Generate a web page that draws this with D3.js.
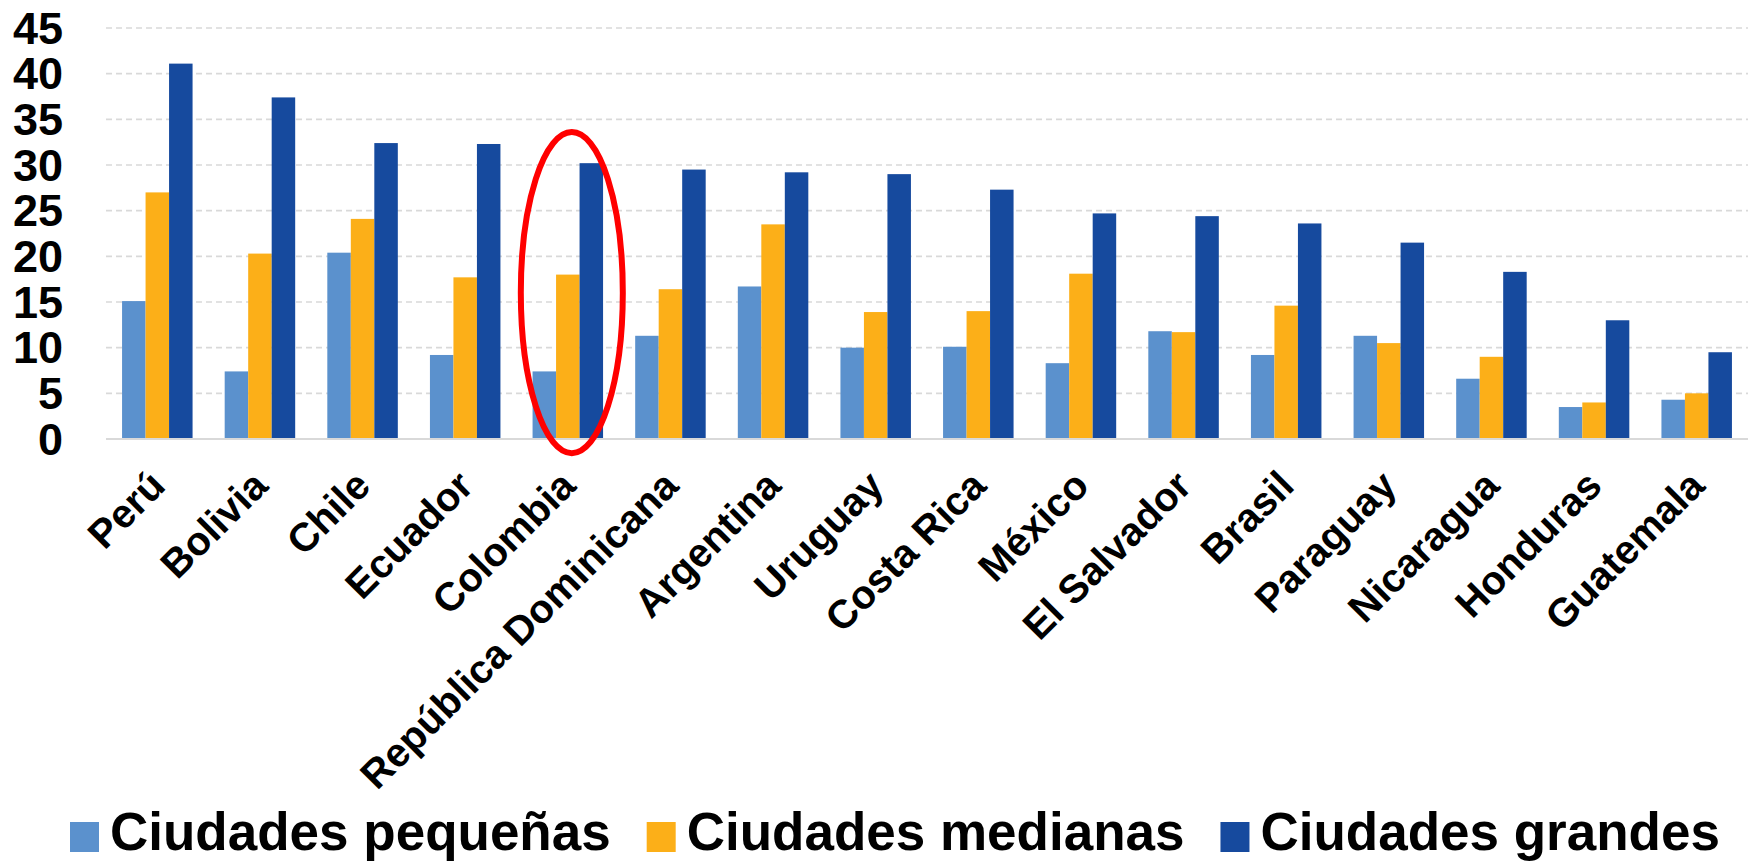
<!DOCTYPE html>
<html>
<head>
<meta charset="utf-8">
<script src="https://d3js.org/d3.v7.min.js"></script>
<style>
  body { margin: 0; background: #fff; }
  text { font-family: Arial, "Liberation Sans", sans-serif; font-weight: bold; fill: #000; }
</style>
</head>
<body>
<div id="chart"></div>
<script>
var paises = ["Perú", "Bolivia", "Chile", "Ecuador", "Colombia", "República Dominicana",
    "Argentina", "Uruguay", "Costa Rica", "México", "El Salvador", "Brasil",
    "Paraguay", "Nicaragua", "Honduras", "Guatemala"];

var pequenas = [15.1, 7.4, 20.4, 9.2, 7.4, 11.3, 16.7, 10.0, 10.1, 8.3, 11.8, 9.2, 11.3, 6.6, 3.5, 4.3];
var medianas = [27.0, 20.3, 24.1, 17.7, 18.0, 16.4, 23.5, 13.9, 14.0, 18.1, 11.7, 14.6, 10.5, 9.0, 4.0, 5.0];
var grandes  = [41.1, 37.4, 32.4, 32.3, 30.2, 29.5, 29.2, 29.0, 27.3, 24.7, 24.4, 23.6, 21.5, 18.3, 13.0, 9.5];

var series = ["Ciudades pequeñas", "Ciudades medianas", "Ciudades grandes"];
var colores = ["#5b91cd", "#fcaf18", "#164a9e"];
var yTicks = [0, 5, 10, 15, 20, 25, 30, 35, 40, 45];

var destacado = "Colombia";

function drawChart() {
    var svgWidth = 1752, svgHeight = 863;
    var left = 106, right = 1748, top = 28, bottom = 439;

    var svg = d3.select("#chart").append("svg")
        .attr("width", svgWidth)
        .attr("height", svgHeight);

    var x0 = d3.scaleBand()
        .domain(paises)
        .range([left, right])
        .paddingInner(0.313)
        .paddingOuter(0.1565);

    var x1 = d3.scaleBand()
        .domain(d3.range(series.length))
        .range([0, x0.bandwidth()]);

    var y = d3.scaleLinear().domain([0, 45]).range([bottom, top]);

    // gridlines
    svg.append("g").selectAll("line")
        .data(yTicks.filter(function(d) { return d > 0; }))
        .enter().append("line")
        .attr("x1", left).attr("x2", right)
        .attr("y1", function(d) { return y(d); })
        .attr("y2", function(d) { return y(d); })
        .style("stroke", "#d9d9d9")
        .style("stroke-width", 1.6)
        .style("stroke-dasharray", "6,4");

    // y labels
    svg.append("g").selectAll("text")
        .data(yTicks)
        .enter().append("text")
        .attr("x", 63)
        .attr("y", function(d) { return y(d); })
        .attr("dy", "0.35em")
        .attr("text-anchor", "end")
        .style("font-size", "45px")
        .text(function(d) { return d; });

    var datos = paises.map(function(p, i) {
        return { pais: p, valores: [pequenas[i], medianas[i], grandes[i]] };
    });

    var grupo = svg.selectAll(".grupo")
        .data(datos)
        .enter().append("g")
        .attr("class", "grupo")
        .attr("transform", function(d) { return "translate(" + x0(d.pais) + ",0)"; });

    grupo.selectAll("rect")
        .data(function(d) { return d.valores; })
        .enter().append("rect")
        .attr("x", function(d, i) { return x1(i); })
        .attr("y", function(d) { return y(d); })
        .attr("width", x1.bandwidth())
        .attr("height", function(d) { return y(0) - y(d); })
        .style("fill", function(d, i) { return colores[i]; });

    // base axis line
    svg.append("line")
        .attr("x1", left).attr("x2", right)
        .attr("y1", y(0)).attr("y2", y(0))
        .style("stroke", "#d9d9d9")
        .style("stroke-width", 2);

    // category labels
    svg.append("g").selectAll("text")
        .data(paises)
        .enter().append("text")
        .attr("text-anchor", "end")
        .attr("transform", function(d) {
            return "translate(" + (x0(d) + x0.bandwidth() / 2 + 10) + ",488) rotate(-45)";
        })
        .style("font-size", "40px")
        .text(function(d) { return d; });

    // highlight ellipse
    svg.append("ellipse")
        .attr("cx", x0(destacado) + x0.bandwidth() / 2 + 4)
        .attr("cy", (y(33.6) + y(-1.55)) / 2)
        .attr("rx", 51)
        .attr("ry", (y(-1.55) - y(33.6)) / 2)
        .style("fill", "none")
        .style("stroke", "#ff0000")
        .style("stroke-width", 6);

    // legend
    var legend = svg.append("g");
    var lx = 70, ly = 837;
    series.forEach(function(s, i) {
        legend.append("rect")
            .attr("x", lx).attr("y", ly - 15)
            .attr("width", 29).attr("height", 30)
            .style("fill", colores[i]);
        var t = legend.append("text")
            .attr("x", lx + 40)
            .attr("y", 850)
            .style("font-size", "53px")
            .text(s);
        lx = lx + 40 + t.node().getComputedTextLength() + 36;
    });
}

drawChart();
</script>
</body>
</html>
